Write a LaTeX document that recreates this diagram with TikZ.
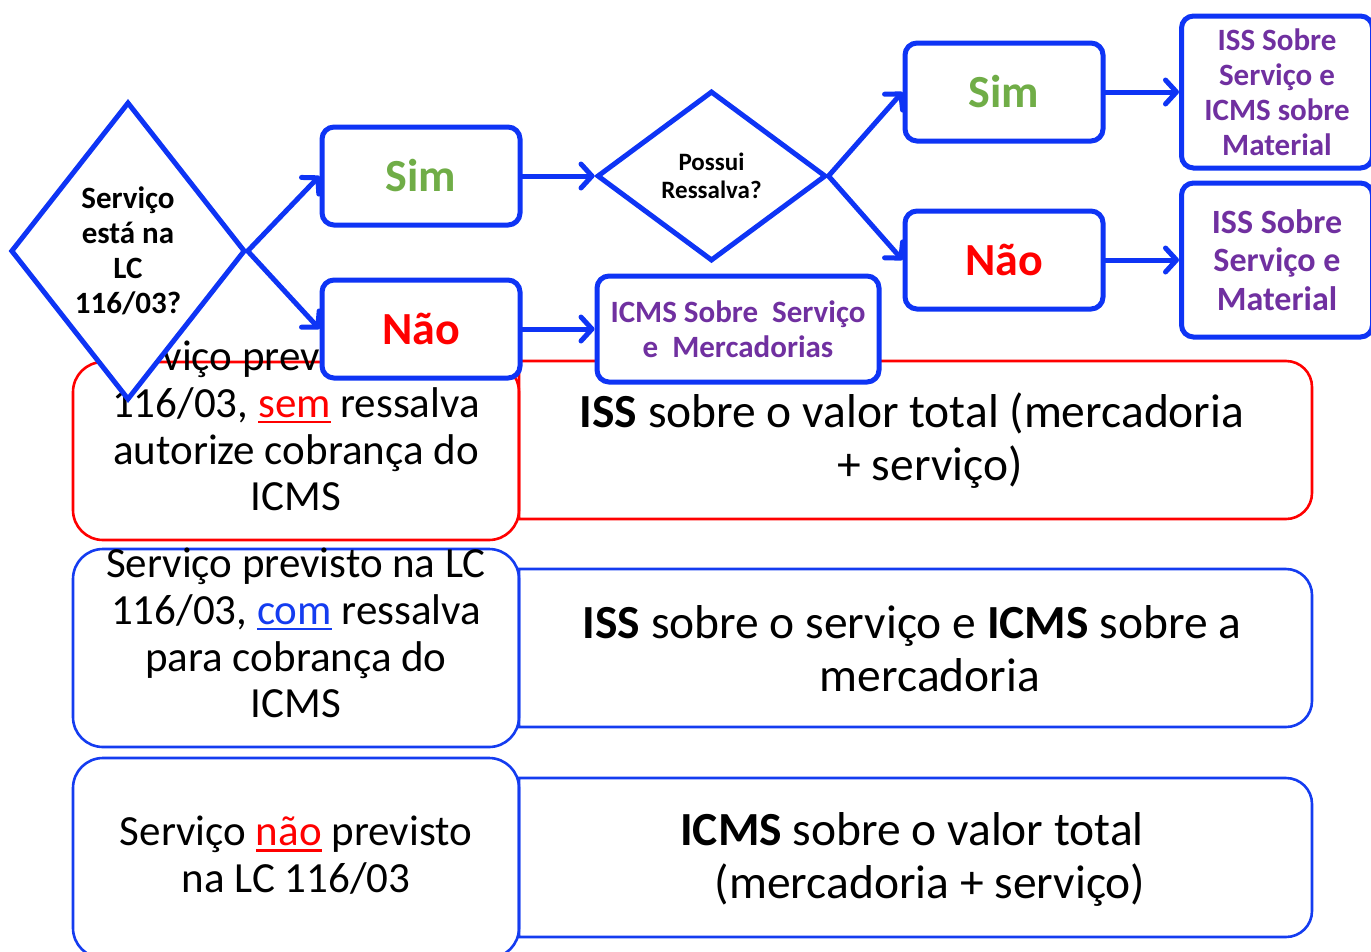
\documentclass[tikz,border=0pt]{standalone}
\usepackage{fontspec}
\setmainfont{Carlito}
\usetikzlibrary{shapes.geometric,arrows.meta}
\definecolor{fblue}{RGB}{14,52,245}
\definecolor{lblue}{RGB}{20,60,240}
\definecolor{fgreen}{RGB}{112,173,71}
\definecolor{fpurple}{RGB}{112,48,160}
\definecolor{fred}{RGB}{255,0,0}
\newcommand\myul[2]{\sbox0{#2}\rlap{\color{#1}\rule[-6pt]{\wd0}{2.8pt}}\usebox0}
\begin{document}
\begin{tikzpicture}[x=1pt,y=-1pt,
  flowbox/.style={draw=fblue, line width=5pt, rounded corners=12pt, fill=white, inner sep=0pt, align=center, font=\bfseries},
  decision/.style={diamond, draw=fblue, line width=5pt, fill=white, inner sep=0pt, align=center, font=\bfseries},
  flowarrow/.style={draw=fblue, line width=5pt, line cap=round, -{Straight Barb[length=11pt,width=24pt,line cap=round,line join=round]}},
  leftbox/.style={line width=2.6pt, rounded corners=30pt},
  rightbox/.style={line width=2.6pt},
  lefttext/.style={align=center, inner sep=0pt, font=\fontsize{43}{46.7}\selectfont},
  righttext/.style={align=center, inner sep=0pt, font=\fontsize{47.5}{53}\selectfont}]
\useasboundingbox (0,0) rectangle (1371,951);
% ---------- bottom table ----------
\draw[rightbox, draw=fred] (519,519) -- (519,361) -- (1286,361) arc[start angle=-90,end angle=0,radius=26] -- (1312,493) arc[start angle=0,end angle=90,radius=26] -- cycle;
\draw[leftbox, draw=fred] (73,362) rectangle (519,540);
\draw[rightbox, draw=lblue] (519,727) -- (519,569) -- (1286,569) arc[start angle=-90,end angle=0,radius=26] -- (1312,701) arc[start angle=0,end angle=90,radius=26] -- cycle;
\draw[leftbox, draw=lblue] (73,549) rectangle (519,747);
\draw[rightbox, draw=lblue] (519,937) -- (519,778) -- (1286,778) arc[start angle=-90,end angle=0,radius=26] -- (1312,911) arc[start angle=0,end angle=90,radius=26] -- cycle;
\draw[leftbox, draw=lblue] (73,758) rectangle (519,958);

\node[lefttext] (t1) at (296,426) {Serviço previsto na LC\\116/03, \myul{fred}{\color{fred}sem} ressalva\\autorize cobrança do\\ICMS};
\node[lefttext] (t2) at (296,633) {Serviço previsto na LC\\116/03, \myul{lblue}{\color{lblue}com} ressalva\\para cobrança do\\ICMS};
\node[lefttext] (t3) at (296,855) {Serviço \myul{fred}{\color{fred}não} previsto\\na LC 116/03};

\node[righttext] (r1) at (930,441) {\textbf{ISS} sobre o valor total (mercadoria\hspace*{36pt}\\+ serviço)};
\node[righttext] (r2) at (930,649) {\textbf{ISS} sobre o serviço e \textbf{ICMS} sobre a\hspace*{36pt}\\mercadoria};
\node[righttext] (r3) at (930,859) {\textbf{ICMS} sobre o valor total\hspace*{36pt}\\(mercadoria + serviço)};

% ---------- flowchart ----------
\node[decision, minimum width=232pt, minimum height=298pt, font=\bfseries\fontsize{31}{35}\selectfont] (d1) at (128,251) {Serviço\\está na\\LC\\116/03?};
\node[flowbox, minimum width=198pt, minimum height=98pt, text=fgreen, font=\bfseries\fontsize{46}{50}\selectfont] (sim1) at (421,176) {Sim};
\node[flowbox, minimum width=198pt, minimum height=98pt, text=fred, font=\bfseries\fontsize{46}{50}\selectfont] (nao1) at (421,329) {Não};
\node[decision, minimum width=229pt, minimum height=170pt, font=\bfseries\fontsize{25}{28}\selectfont] (d2) at (711.5,176) {Possui\\Ressalva?};
\node[flowbox, minimum width=282pt, minimum height=106pt, text=fpurple, font=\bfseries\fontsize{31}{35}\selectfont] (icms) at (738,329) {ICMS Sobre\ \ Serviço\\e\ \ Mercadorias};
\node[flowbox, minimum width=198pt, minimum height=98pt, text=fgreen, font=\bfseries\fontsize{46}{50}\selectfont] (sim2) at (1004,92) {Sim};
\node[flowbox, minimum width=198pt, minimum height=98pt, text=fred, font=\bfseries\fontsize{46}{50}\selectfont] (nao2) at (1004,260) {Não};
\node[flowbox, minimum width=191pt, minimum height=152pt, text=fpurple, font=\bfseries\fontsize{31}{35}\selectfont] (res1) at (1277,92) {ISS Sobre\\Serviço e\\ICMS sobre\\Material};
\node[flowbox, minimum width=191pt, minimum height=154pt, text=fpurple, font=\bfseries\fontsize{34}{38.5}\selectfont] (res2) at (1277,260) {ISS Sobre\\Serviço e\\Material};

\draw[flowarrow] (d1.east) -- (sim1.west);
\draw[flowarrow] (d1.east) -- (nao1.west);
\draw[flowarrow] (sim1.east) -- (d2.west);
\draw[flowarrow] (nao1.east) -- (icms.west);
\draw[flowarrow] (d2.east) -- (sim2.west);
\draw[flowarrow] (d2.east) -- (nao2.west);
\draw[flowarrow] (sim2.east) -- (res1.west);
\draw[flowarrow] (nao2.east) -- (res2.west);
\end{tikzpicture}
\end{document}
